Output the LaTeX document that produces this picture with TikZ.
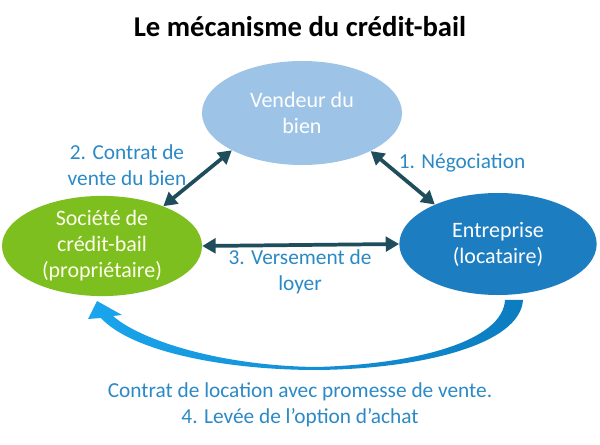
\documentclass[tikz,border=0pt]{standalone}
\usepackage{fontspec}
\setmainfont{Carlito}
\usetikzlibrary{arrows.meta,shapes.geometric}
\definecolor{vendc}{HTML}{9DC3E6}
\definecolor{socc}{HTML}{7CBF1F}
\definecolor{entc}{HTML}{1C7DC1}
\definecolor{arrc}{HTML}{1F4D5C}
\definecolor{labc}{HTML}{2B8AC6}
\definecolor{arcl}{HTML}{1AA5EC}
\definecolor{arcr}{HTML}{0C7CC0}
\definecolor{arcm}{HTML}{B5E0F7}
\begin{document}
\begin{tikzpicture}[x=0.75pt,y=-0.75pt,
  party/.style={ellipse, inner sep=0pt, align=center, text=white,
    font=\fontsize{16.5}{19.5}\selectfont},
  lab/.style={align=center, text=labc, font=\fontsize{16}{19.5}\selectfont},
  link/.style={draw=arrc, line width=2.8pt,
    {Triangle[length=10pt,width=11pt]}-{Triangle[length=10pt,width=11pt]}}]
\useasboundingbox[fill=white] (0,0) rectangle (600,445);

% title
\node[font=\fontsize{21.5}{24}\selectfont\bfseries] (title) at (300,27) {Le mécanisme du crédit-bail};

% bottom curved arrow (tapered, shaded)
\shade[left color=arcl, middle color=arcm, right color=arcr]
  (523,300) .. controls (520,345) and (420,369) .. (317,370)
  .. controls (220,370) and (130,350) .. (101,318)
  -- (88,319) -- (97,301) -- (122,315) -- (113,316)
  .. controls (140,340) and (220,366) .. (317,367)
  .. controls (420,364) and (503,340) .. (505,300) -- cycle;

% parties
\node[party, fill=vendc, minimum width=150pt, minimum height=78pt] (vend) at (302,113) {Vendeur du\\bien};
\node[party, fill=socc, minimum width=150pt, minimum height=72pt, text=white!92!yellow] (soc) at (102,246) {Société de\\crédit-bail\\(propriétaire)};
\node[party, fill=entc, minimum width=148pt, minimum height=76.5pt] (ent) at (498,244) {Entreprise\\(locataire)};

% connectors
\draw[link] (vend.208) -- (soc.33);
\draw[link] (vend.331) -- (ent.148);
\draw[link] (soc.east) -- (ent.west);

% labels
\node[lab] (l2) at (127,165) {2. Contrat de\\vente du bien};
\node[lab] (l1) at (462,163) {1. Négociation};
\node[lab] (l3) at (300,272) {3. Versement de\\loyer};
\node[lab] (l4) at (300,405) {Contrat de location avec promesse de vente.\\4. Levée de l’option d’achat};
\end{tikzpicture}
\end{document}
